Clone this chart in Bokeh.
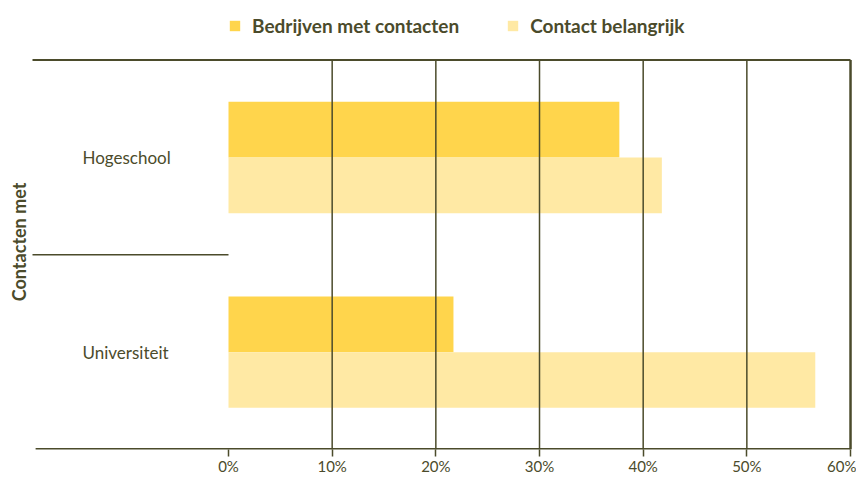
import math
from bokeh.plotting import figure
from bokeh.models import (Range1d, FixedTicker, Legend, LegendItem, ColumnDataSource)
from bokeh.core.properties import value
from bokeh.embed import file_html
from bokeh.resources import INLINE

categories = ["Universiteit", "Hogeschool"]
bedrijven_met_contacten = [21.7, 37.7]
contact_belangrijk = [56.6, 41.8]
series_names = ["Bedrijven met contacten", "Contact belangrijk"]
x_ticks = [0, 10, 20, 30, 40, 50, 60]
x_tick_labels = ["0%", "10%", "20%", "30%", "40%", "50%", "60%"]
y_title = "Contacten met"

DARK = "#FFD54C"
LIGHT = "#FFE9A4"
INK = "#4B4B2B"
FONT = "Lato"

# layout constants (pixels -> data)
PX_X = 10.367          # pixels per percent
PX_Y = 196.0           # pixels per category band
X0_PAGE = 228          # page x of 0%
W, H = 856, 477
FRAME_H = 452
n = len(categories)
ypos = [i + 0.5 for i in range(n)]
bar_h = 0.286

src = ColumnDataSource(dict(cat=categories, y=ypos,
                            ya=[v + bar_h / 2 for v in ypos], yb=[v - bar_h / 2 for v in ypos],
                            a=bedrijven_met_contacten, b=contact_belangrijk))

x_start = -X0_PAGE / PX_X
x_end = (W - X0_PAGE) / PX_X
p = figure(width=W, height=H, output_backend="svg", toolbar_location=None,
           x_range=Range1d(x_start, x_end), y_range=Range1d(0, FRAME_H / PX_Y),
           min_border_left=0, min_border_right=0, min_border_top=0, min_border_bottom=H - FRAME_H)
p.outline_line_color = None
p.background_fill_color = "white"
p.border_fill_color = "white"
p.xgrid.grid_line_color = None
p.ygrid.grid_line_color = None
p.yaxis.visible = False

r1 = p.hbar(y="ya", right="a", left=0, height=bar_h, source=src, fill_color=DARK, line_color=None)
r2 = p.hbar(y="yb", right="b", left=0, height=bar_h, source=src, fill_color=LIGHT, line_color=None)

# category labels
p.text(x=(82 - X0_PAGE) / PX_X, y="y", text="cat", source=src, text_font=value(FONT),
       text_font_size="17px", text_color=INK, text_baseline="middle", text_align="left")

# frame lines
left_edge = (32 - X0_PAGE) / PX_X
right_edge = x_ticks[-1]
p.segment(x0=[left_edge, left_edge + 0.3, left_edge], x1=[right_edge, right_edge, 0],
          y0=[n, 0, 1], y1=[n, 0, 1], line_color=INK, line_width=[2, 3, 1.5])
# vertical grid lines
p.segment(x0=x_ticks[1:], x1=x_ticks[1:], y0=0, y1=n, line_color=INK,
          line_width=[1.5] * (len(x_ticks) - 2) + [2.5])

# y title
p.text(x=(18 - X0_PAGE) / PX_X, y=(450 - 241) / PX_Y, text=[y_title], angle=math.pi / 2,
       text_font=value(FONT), text_font_size="18px", text_font_style="bold", text_color=INK,
       text_align="center", text_baseline="middle")

xa = p.xaxis[0]
xa.ticker = FixedTicker(ticks=x_ticks)
xa.major_label_overrides = {t: l for t, l in zip(x_ticks, x_tick_labels)}
xa.axis_line_color = None
xa.major_tick_line_color = INK
xa.major_tick_line_width = 1.5
xa.major_tick_out = 7
xa.major_tick_in = 0
xa.minor_tick_line_color = None
xa.major_label_standoff = 0
xa.major_label_text_font = FONT
xa.major_label_text_font_size = "15px"
xa.major_label_text_color = INK

legend = Legend(items=[LegendItem(label=series_names[0], renderers=[r1]),
                       LegendItem(label=series_names[1], renderers=[r2])],
                orientation="horizontal", location=(228, 412),
                glyph_width=13, glyph_height=13, label_standoff=11, spacing=47,
                label_text_font=FONT, label_text_font_size="19px", label_text_font_style="bold",
                label_text_color=INK, border_line_color=None, background_fill_alpha=0,
                padding=0, margin=0)
p.add_layout(legend, "center")

open("out.html", "w").write(file_html(p, INLINE))
